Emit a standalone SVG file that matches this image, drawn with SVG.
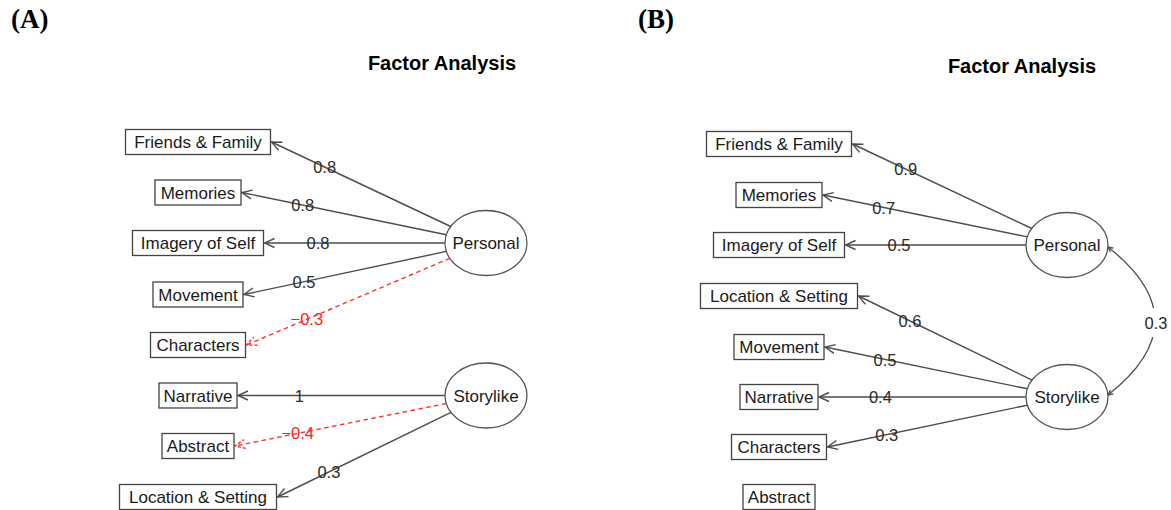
<svg xmlns="http://www.w3.org/2000/svg" width="1171" height="510" viewBox="0 0 1171 510">
<style>
.bg{fill:#fff}
.panel{font-family:"Liberation Serif","Times New Roman",serif;font-weight:bold;font-size:27px;fill:#000}
.title{font-family:"Liberation Sans",Arial,sans-serif;font-weight:bold;font-size:20px;fill:#000;text-anchor:middle}
.box{fill:#fff;stroke:#444;stroke-width:1.3}
.ell{fill:#fff;stroke:#555;stroke-width:1.3}
.nt{font-family:"Liberation Sans",Arial,sans-serif;font-size:17px;fill:#1a1a1a;text-anchor:middle}
.e{fill:none;stroke:#4d4d4d;stroke-width:1.4;marker-end:url(#ah)}
.en{fill:none;stroke:#ff3030;stroke-width:1.4;stroke-dasharray:4.5,3.5;marker-end:url(#ahr)}
.lb{font-family:"Liberation Sans",Arial,sans-serif;font-size:16.5px;fill:#2a2a2a;text-anchor:middle}
.lbr{font-family:"Liberation Sans",Arial,sans-serif;font-size:16.5px;fill:#ff2020;text-anchor:middle}
</style>
<defs>
<marker id="ah" markerUnits="userSpaceOnUse" viewBox="-12 -7 14 14" markerWidth="14" markerHeight="14" refX="0" refY="0" orient="auto">
<path d="M-10,-4.5 L0,0 L-10,4.5" fill="none" stroke="#4d4d4d" stroke-width="1.4"/>
</marker>
<marker id="ahr" markerUnits="userSpaceOnUse" viewBox="-12 -7 14 14" markerWidth="14" markerHeight="14" refX="0" refY="0" orient="auto">
<path d="M-10,-4.5 L0,0 L-10,4.5" fill="none" stroke="#ff3030" stroke-width="1.4" stroke-dasharray="3,2"/>
</marker>
<marker id="ahc" markerUnits="userSpaceOnUse" viewBox="-12 -7 14 14" markerWidth="14" markerHeight="14" refX="0" refY="0" orient="auto-start-reverse">
<path d="M-5,-2.5 L0,0 L-5,2.5" fill="none" stroke="#4d4d4d" stroke-width="1.3"/>
</marker>
</defs>
<rect class="bg" x="0" y="0" width="1171" height="510"/>

<text class="panel" x="11" y="28">(A)</text>
<text class="panel" x="638" y="28">(B)</text>
<text class="title" x="442" y="70">Factor Analysis</text>
<text class="title" x="1022" y="73">Factor Analysis</text>

<g id="connectors-A">
<line class="e" x1="450.7" y1="226.5" x2="271.5" y2="142"/>
<line class="e" x1="446.3" y1="234.8" x2="242" y2="192.5"/>
<line class="e" x1="445" y1="243" x2="264.5" y2="243"/>
<line class="e" x1="446.4" y1="251.4" x2="244" y2="294.5"/>
<line class="en" x1="449.9" y1="258.3" x2="246.5" y2="345"/>
<line class="e" x1="445" y1="395.5" x2="238" y2="395.5"/>
<line class="en" x1="446.3" y1="403.5" x2="235" y2="446"/>
<line class="e" x1="451" y1="412.4" x2="277.5" y2="497"/>
<text class="lb" x="324.6" y="173.4">0.8</text>
<text class="lb" x="302.6" y="211.2">0.8</text>
<text class="lb" x="318" y="249">0.8</text>
<text class="lb" x="304" y="287.6">0.5</text>
<text class="lbr" x="306.8" y="325">−0.3</text>
<text class="lb" x="299.4" y="401.5">1</text>
<text class="lbr" x="297.7" y="439.3">−0.4</text>
<text class="lb" x="328.9" y="477.6">0.3</text>
</g>

<g id="connectors-B">
<line class="e" x1="1031.7" y1="228.5" x2="852.5" y2="144"/>
<line class="e" x1="1027.3" y1="236.9" x2="823" y2="195"/>
<line class="e" x1="1026" y1="245" x2="845.5" y2="245"/>
<line class="e" x1="1032" y1="380.1" x2="858.5" y2="296"/>
<line class="e" x1="1027.4" y1="388.8" x2="825" y2="347"/>
<line class="e" x1="1026" y1="397" x2="819" y2="397"/>
<line class="e" x1="1027.3" y1="405.2" x2="827.5" y2="447"/>
<path d="M1108,247 Q1202,321 1108,395" fill="none" stroke="#4d4d4d" stroke-width="1.3" marker-start="url(#ahc)" marker-end="url(#ahc)"/>
<rect x="1145" y="308" width="26" height="29" fill="#fff"/>
<text class="lb" x="905.6" y="175.4">0.9</text>
<text class="lb" x="883.6" y="213.6">0.7</text>
<text class="lb" x="899" y="251">0.5</text>
<text class="lb" x="909.9" y="327.2">0.6</text>
<text class="lb" x="885" y="365.5">0.5</text>
<text class="lb" x="880.4" y="403">0.4</text>
<text class="lb" x="886.7" y="440.5">0.3</text>
<text class="lb" x="1156" y="329">0.3</text>
</g>

<g id="A-friends"><rect class="box" x="125.5" y="129.5" width="145" height="25"/><text class="nt" x="198" y="148">Friends &amp; Family</text></g>
<g id="A-memories"><rect class="box" x="155" y="180" width="86" height="25"/><text class="nt" x="198" y="198.5">Memories</text></g>
<g id="A-imagery"><rect class="box" x="132.5" y="230.5" width="131" height="25"/><text class="nt" x="198" y="249">Imagery of Self</text></g>
<g id="A-movement"><rect class="box" x="153" y="282" width="90" height="25"/><text class="nt" x="198" y="300.5">Movement</text></g>
<g id="A-characters"><rect class="box" x="150.5" y="332.5" width="95" height="25"/><text class="nt" x="198" y="351">Characters</text></g>
<g id="A-narrative"><rect class="box" x="159" y="383" width="78" height="25"/><text class="nt" x="198" y="401.5">Narrative</text></g>
<g id="A-abstract"><rect class="box" x="162" y="433.5" width="72" height="25"/><text class="nt" x="198" y="452">Abstract</text></g>
<g id="A-location"><rect class="box" x="119.5" y="484.5" width="157" height="25"/><text class="nt" x="198" y="503">Location &amp; Setting</text></g>
<g id="A-personal"><ellipse class="ell" cx="486" cy="243" rx="41" ry="32.5"/><text class="nt" x="486" y="249">Personal</text></g>
<g id="A-storylike"><ellipse class="ell" cx="486" cy="395.5" rx="41" ry="32.5"/><text class="nt" x="486" y="401.5">Storylike</text></g>

<g id="B-friends"><rect class="box" x="706.5" y="131.5" width="145" height="25"/><text class="nt" x="779" y="150">Friends &amp; Family</text></g>
<g id="B-memories"><rect class="box" x="736" y="182.5" width="86" height="25"/><text class="nt" x="779" y="201">Memories</text></g>
<g id="B-imagery"><rect class="box" x="713.5" y="232.5" width="131" height="25"/><text class="nt" x="779" y="251">Imagery of Self</text></g>
<g id="B-location"><rect class="box" x="700.5" y="283.5" width="157" height="25"/><text class="nt" x="779" y="302">Location &amp; Setting</text></g>
<g id="B-movement"><rect class="box" x="734" y="334.5" width="90" height="25"/><text class="nt" x="779" y="353">Movement</text></g>
<g id="B-narrative"><rect class="box" x="740" y="384.5" width="78" height="25"/><text class="nt" x="779" y="403">Narrative</text></g>
<g id="B-characters"><rect class="box" x="731.5" y="434.5" width="95" height="25"/><text class="nt" x="779" y="453">Characters</text></g>
<g id="B-abstract"><rect class="box" x="743" y="484.5" width="72" height="25"/><text class="nt" x="779" y="503">Abstract</text></g>
<g id="B-personal"><ellipse class="ell" cx="1067" cy="245" rx="41" ry="32.5"/><text class="nt" x="1067" y="251">Personal</text></g>
<g id="B-storylike"><ellipse class="ell" cx="1067" cy="397" rx="41" ry="32.5"/><text class="nt" x="1067" y="403">Storylike</text></g>
</svg>
